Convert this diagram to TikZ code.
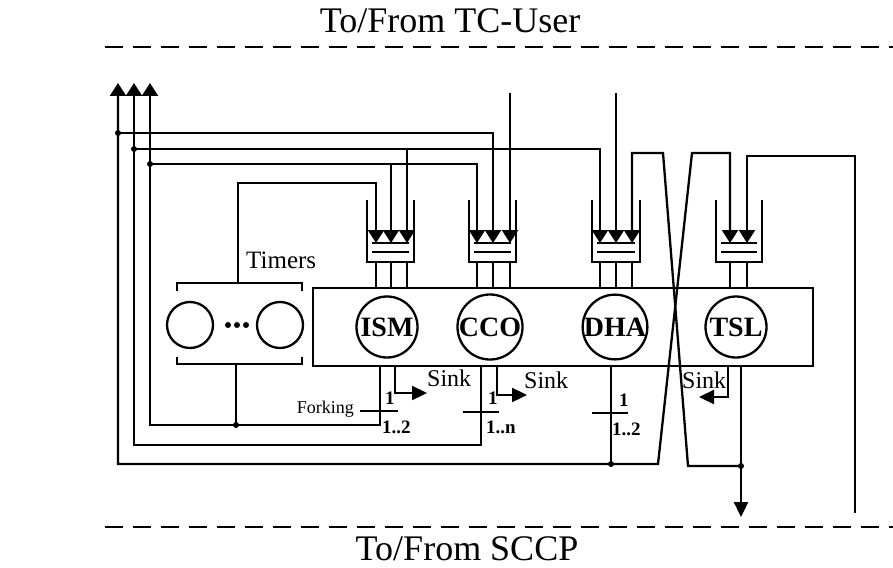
\documentclass[tikz,border=0pt]{standalone}
\usepackage{fontspec}
\setmainfont{Liberation Serif}
\usetikzlibrary{arrows.meta, calc}

\tikzset{
  wire/.style={line width=2.3pt},
  qtip/.tip={Triangle[width=16pt,length=13pt]},
  stip/.tip={Triangle[width=14pt,length=15pt]},
  dot/.style={circle, fill, inner sep=0pt, minimum size=6pt},
  procnode/.style={draw, line width=2.3pt, circle, minimum size=61pt, inner sep=0pt, font=\fontsize{28}{28}\selectfont\bfseries},
  timernode/.style={draw, line width=2.3pt, circle, minimum size=46pt, inner sep=0pt},
  forklabel/.style={anchor=base west, inner sep=0pt, font=\fontsize{19}{19}\selectfont\bfseries},
  sinklabel/.style={anchor=base west, inner sep=0pt, font=\fontsize{24}{24}\selectfont},
  dashline/.style={wire, dash pattern=on 18pt off 10pt},
}

\begin{document}
\begin{tikzpicture}[x=1pt, y=-1pt]
\useasboundingbox (0,0) rectangle (893,567);

%---interfaces---
\node[font=\fontsize{36}{36}\selectfont] (user) at (450,21) {To/From TC-User};
\node[font=\fontsize{36}{36}\selectfont] (sccp) at (467,549) {To/From SCCP};
\draw[dashline] (105,47) -- (893,47);
\draw[dashline] (105,527) -- (893,527);

%---process box---
\node[draw, wire, minimum width=500pt, minimum height=78pt, inner sep=0pt] (pbox) at (563,327) {};
\node[procnode] (ism) at (387,327) {ISM};
\node[procnode] (cco) at (490,327) {CCO};
\node[procnode] (dha) at (615,327) {DHA};
\node[procnode] (tsl) at (736,327) {TSL};

%---timers---
\node[timernode] (tim1) at (190,325) {};
\node[timernode] (tim2) at (280,325) {};
\node[dot] (td1) at (228,325) {};
\node[dot] (td2) at (237,325) {};
\node[dot] (td3) at (246,325) {};
\draw[wire] (177,291) -- (177,283) -- (302,283) -- (302,291);
\draw[wire] (177,357) -- (177,364) -- (302,364) -- (302,357);
\coordinate (ttop) at (238,283);
\coordinate (tbot) at (236,364);
\node[sinklabel, font=\fontsize{25}{25}\selectfont] (tlabel) at (246,268) {Timers};

%---queues---
\draw[wire] (367,200) -- (367,262) -- (414,262) -- (414,200);
\draw[wire] (372,243) -- (409,243) (372,252) -- (409,252);
\draw[wire] (469,200) -- (469,262) -- (516,262) -- (516,200);
\draw[wire] (474,243) -- (511,243) (474,252) -- (511,252);
\draw[wire] (592,200) -- (592,262) -- (640,262) -- (640,200);
\draw[wire] (597,243) -- (635,243) (597,252) -- (635,252);
\draw[wire] (716,200) -- (716,262) -- (762,262) -- (762,200);
\draw[wire] (721,243) -- (757,243) (721,252) -- (757,252);

\coordinate (ismA) at (376,243);
\coordinate (ismB) at (391,243);
\coordinate (ismC) at (407,243);
\coordinate (ccoA) at (477,243);
\coordinate (ccoB) at (493,243);
\coordinate (ccoC) at (510,243);
\coordinate (dhaA) at (600,243);
\coordinate (dhaB) at (616,243);
\coordinate (dhaC) at (632,243);
\coordinate (tslA) at (730,243);
\coordinate (tslB) at (747,243);

\draw[wire] (376,262) -- (376,288) (391,262) -- (391,288) (407,262) -- (407,288);
\draw[wire] (477,262) -- (477,288) (493,262) -- (493,288) (510,262) -- (510,288);
\draw[wire] (600,262) -- (600,288) (616,262) -- (616,288) (632,262) -- (632,288);
\draw[wire] (730,262) -- (730,288) (747,262) -- (747,288);

%---upward lines to TC-User---
\coordinate (uo) at (118,83);
\coordinate (um) at (134,83);
\coordinate (ui) at (150,83);
\draw[wire, qtip-qtip] (uo) -- (118,464) -- (658,464) -- (692,153) -- (730,153) -- (tslA);
\draw[wire, qtip-] (um) -- (134,445) -- (481,445) -- (481,366);
\draw[wire, qtip-] (ui) -- (150,425) -- (380,425) -- (380,366);
\draw[wire] (tbot) -- (236,425);
\node[dot] (d1) at (236,425) {};
\node[dot] (d2) at (611,464) {};

\draw[wire, -qtip] (118,133) -- (493,133) -- (ccoB);
\draw[wire, -qtip] (134,149) -- (600,149) -- (dhaA);
\draw[wire, -qtip] (407,149) -- (ismC);
\draw[wire, -qtip] (150,164) -- (477,164) -- (ccoA);
\draw[wire, -qtip] (391,164) -- (ismB);
\node[dot] (d3) at (118,133) {};
\node[dot] (d4) at (134,149) {};
\node[dot] (d5) at (150,164) {};
\draw[wire, -qtip] (ttop) -- (238,183) -- (376,183) -- (ismA);

\draw[wire, -qtip] (510,93) -- (ccoC);
\draw[wire, -qtip] (616,93) -- (dhaB);
\draw[wire, -qtip] (741,466) -- (688,466) -- (663,153) -- (632,153) -- (dhaC);
\draw[wire, -qtip] (855,513) -- (855,156) -- (747,156) -- (tslB);

%---to SCCP---
\draw[wire, -stip] (741,366) -- (741,517);
\node[dot] (d6) at (741,466) {};

%---forking---
\draw[wire] (360,411) -- (398,411);
\node[anchor=base east, inner sep=0pt, font=\fontsize{18}{18}\selectfont] (fork) at (354,413) {Forking};
\node[forklabel] at (385,404) {1};
\node[forklabel] at (382,433) {1..2};
\draw[wire] (463,412) -- (499,412);
\node[forklabel] at (488,404) {1};
\node[forklabel] at (486,433) {1..n};
\draw[wire] (611,366) -- (611,464);
\draw[wire] (592,413) -- (628,413);
\node[forklabel] at (619,406) {1};
\node[forklabel] at (612,435) {1..2};

%---sinks---
\draw[wire, -stip] (395,366) -- (395,393) -- (427,393);
\node[sinklabel] at (427,386) {Sink};
\draw[wire, -stip] (497,366) -- (497,395) -- (527,395);
\node[sinklabel] at (524,388) {Sink};
\draw[wire, -stip] (728,366) -- (728,397) -- (699,397);
\node[sinklabel] at (682,388) {Sink};

\end{tikzpicture}
\end{document}
